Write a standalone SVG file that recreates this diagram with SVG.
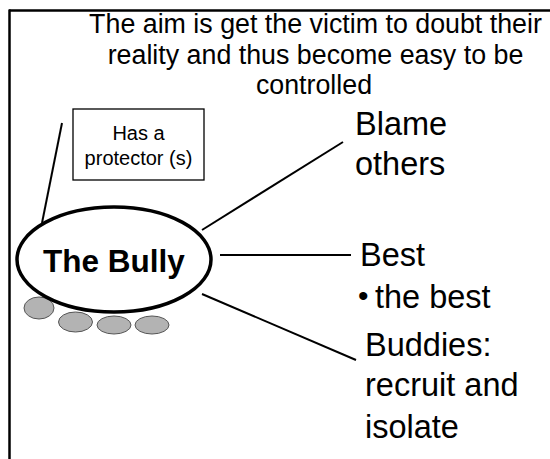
<svg xmlns="http://www.w3.org/2000/svg" width="550" height="459" viewBox="0 0 550 459">
<style>
text{font-family:"Liberation Sans",Arial,sans-serif;fill:#000}
.top{font-size:26.8px;text-anchor:middle}
.big{font-size:32.5px}
.small{font-size:20px;text-anchor:middle}
.conn line{stroke:#000;stroke-width:2}
.stone{fill:#b3b3b3;stroke:#555;stroke-width:1}
</style>
<rect width="550" height="459" fill="#fff"/>
<g id="frame">
<line x1="9" y1="10.5" x2="550" y2="10.5" stroke="#000" stroke-width="2.5"/>
<line x1="9.5" y1="9.5" x2="9.5" y2="459" stroke="#000" stroke-width="2.5"/>
</g>
<g id="aim">
<text class="top" x="315.5" y="33">The aim is get the victim to doubt their</text>
<text class="top" x="315.5" y="63.5">reality and thus become easy to be</text>
<text class="top" x="314" y="94">controlled</text>
</g>
<g class="conn" id="connectors">
<line x1="62" y1="123" x2="42" y2="223"/>
<line x1="202" y1="230" x2="343" y2="142"/>
<line x1="220" y1="255" x2="351" y2="255"/>
<line x1="202" y1="294" x2="356" y2="360"/>
</g>
<g id="protector">
<rect x="73" y="109" width="131" height="71" fill="#fff" stroke="#000" stroke-width="1.3"/>
<text class="small" x="138.5" y="140">Has a</text>
<text class="small" x="138.5" y="165">protector (s)</text>
</g>
<g id="buddies-stones">
<ellipse class="stone" cx="39" cy="308" rx="15" ry="11"/>
<ellipse class="stone" cx="75.5" cy="322" rx="17" ry="10"/>
<ellipse class="stone" cx="114" cy="325" rx="17" ry="9"/>
<ellipse class="stone" cx="152" cy="325" rx="17" ry="9"/>
</g>
<g id="bully">
<ellipse cx="114" cy="259.5" rx="97" ry="52.5" fill="#fff" stroke="#000" stroke-width="3.5"/>
<text x="114" y="272" font-size="31.5" font-weight="bold" text-anchor="middle">The Bully</text>
</g>
<g id="blame">
<text class="big" x="355" y="135">Blame</text>
<text class="big" x="355" y="175">others</text>
</g>
<g id="best">
<text class="big" x="360" y="266">Best</text>
<text x="358" y="306" font-size="30">•</text>
<text class="big" x="375" y="308">the best</text>
</g>
<g id="buddies">
<text class="big" x="365" y="356">Buddies:</text>
<text class="big" x="365" y="396">recruit and</text>
<text class="big" x="365" y="438">isolate</text>
</g>
</svg>
